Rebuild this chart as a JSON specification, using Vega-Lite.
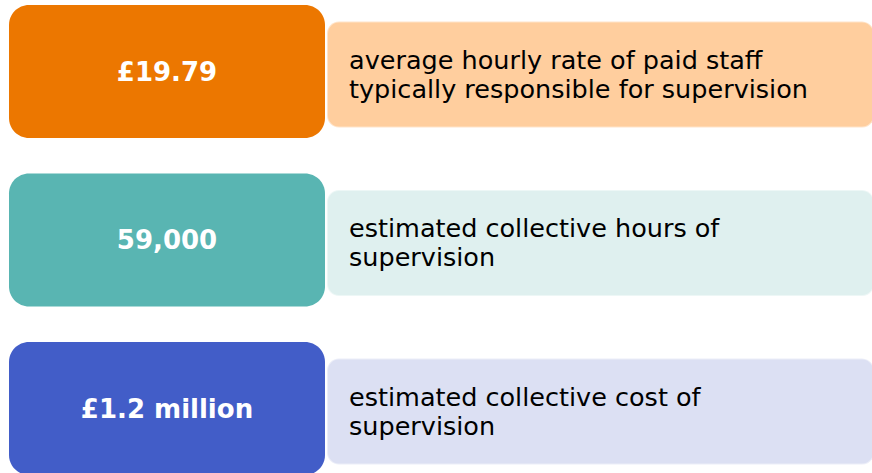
{
  "$schema": "https://vega.github.io/schema/vega-lite/v6.json",
  "width": 872,
  "height": 473,
  "autosize": "none",
  "padding": 0,
  "background": "white",
  "config": {"view": {"stroke": null}},
  "data": {"values": [
    {"item": "rate", "value": "£19.79", "description": "average hourly rate of paid staff\ntypically responsible for supervision"},
    {"item": "hours", "value": "59,000", "description": "estimated collective hours of\nsupervision"},
    {"item": "cost", "value": "£1.2 million", "description": "estimated collective cost of\nsupervision"}
  ]},
  "encoding": {
    "y": {"field": "item", "type": "nominal", "sort": null, "axis": null,
          "scale": {"range": [-12.75, 492.75], "paddingInner": 0, "paddingOuter": 0}}
  },
  "layer": [
    {
      "mark": {"type": "bar", "cornerRadius": 12, "height": {"band": 0.63}, "yOffset": 3, "stroke": "white", "strokeOpacity": 0.45, "strokeWidth": 2},
      "encoding": {
        "x": {"datum": 327, "type": "quantitative", "scale": {"domain": [0, 872], "nice": false, "zero": false}, "axis": null},
        "x2": {"datum": 874},
        "color": {"field": "item", "type": "nominal", "legend": null,
                  "scale": {"domain": ["rate", "hours", "cost"], "range": ["#FFCE9E", "#DFF0EF", "#DCE0F3"]}}
      }
    },
    {
      "mark": {"type": "bar", "cornerRadius": 20, "height": {"band": 0.79}},
      "encoding": {
        "x": {"datum": 9, "type": "quantitative"},
        "x2": {"datum": 325},
        "fill": {"field": "item", "type": "nominal", "legend": null,
                 "scale": {"domain": ["rate", "hours", "cost"], "range": ["#EC7700", "#59B5B2", "#425DC8"]}}
      }
    },
    {
      "mark": {"type": "text", "align": "center", "baseline": "middle", "font": "DejaVu Sans", "fontWeight": "bold", "fontSize": 26, "fill": "white", "yOffset": 1},
      "encoding": {
        "x": {"datum": 167, "type": "quantitative"},
        "text": {"field": "value"}
      }
    },
    {
      "mark": {"type": "text", "align": "left", "baseline": "middle", "font": "DejaVu Sans", "fontSize": 25.5, "lineHeight": 29, "lineBreak": "\n", "fill": "#000000", "yOffset": -11},
      "encoding": {
        "x": {"datum": 349, "type": "quantitative"},
        "text": {"field": "description"}
      }
    }
  ],
  "resolve": {"scale": {"color": "independent", "fill": "independent"}}
}
